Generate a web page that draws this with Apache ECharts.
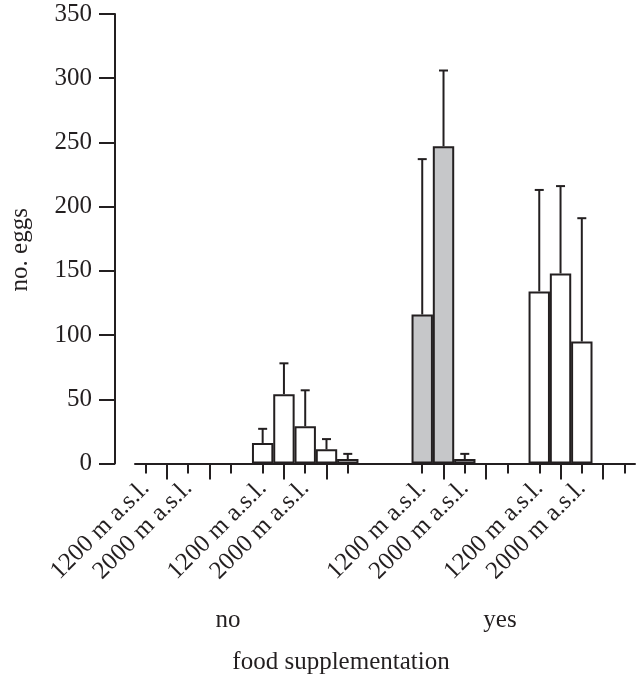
<!DOCTYPE html>
<html>
<head>
<meta charset="utf-8">
<script src="https://cdn.jsdelivr.net/npm/echarts@6/dist/echarts.min.js"></script>
<style>
  html, body { margin: 0; padding: 0; background: #fff; }
  #main { width: 636px; height: 675px; }
</style>
</head>
<body>
<div id="main"></div>
<script>
// x axis is split into half-width slots, bars sit on slot indices
const slotCount = 48;
const slots = Array.from({ length: slotCount }, (_, i) => String(i));

// tick labels
const labelSlots = [1, 5, 12, 16, 27, 31, 38, 42];
const labelTexts = ["1200 m a.s.l.", "2000 m a.s.l.", "1200 m a.s.l.", "2000 m a.s.l.",
    "1200 m a.s.l.", "2000 m a.s.l.", "1200 m a.s.l.", "2000 m a.s.l."];
const shortTickSlots = [1, 5, 9, 12, 16, 20, 27, 31, 35, 38, 42, 46];
const longTickSlots = [3, 7, 14, 18, 29, 33, 40, 44];

// open bars
const whiteSlots = [12, 14, 16, 18, 20, 38, 40, 42];
const whiteMeans = [16, 54, 29, 11, 3.5, 134, 148, 95];
const whiteUpper = [27, 78, 57, 19, 7.5, 213, 216, 191];

// grey bars
const greySlots = [27, 29, 31];
const greyMeans = [116, 247, 3.5];
const greyUpper = [237, 306, 7.5];

const groupLabels = ["no", "yes"];
const yTicks = [0, 50, 100, 150, 200, 250, 300, 350];

const ink = "#231f20";
const font = "Liberation Serif";

const chart = echarts.init(document.getElementById("main"));

function slotData(slotList, values) {
    const data = slots.map(() => "-");
    slotList.forEach((s, i) => { data[s] = values[i]; });
    return data;
}

const errData = [];
whiteSlots.forEach((s, i) => errData.push([s, whiteMeans[i], whiteUpper[i]]));
greySlots.forEach((s, i) => errData.push([s, greyMeans[i], greyUpper[i]]));

const option = {
    animation: false,
    grid: { left: 133, right: 1, top: 14, bottom: 211.5 },
    xAxis: [
        {
            type: "category",
            data: slots,
            boundaryGap: false,
            axisLine: { lineStyle: { color: ink, width: 2 } },
            axisTick: {
                length: 10,
                lineStyle: { color: ink, width: 2 },
                interval: (i) => shortTickSlots.includes(i)
            },
            axisLabel: {
                rotate: 45,
                margin: 21,
                fontFamily: font,
                fontSize: 25,
                color: ink,
                interval: (i) => labelSlots.includes(i),
                formatter: (v, i) => {
                    const k = labelSlots.indexOf(i);
                    return k >= 0 ? labelTexts[k] : "";
                }
            }
        },
        {
            type: "category",
            data: slots,
            boundaryGap: false,
            position: "bottom",
            axisLine: { show: false },
            axisTick: {
                length: 16,
                lineStyle: { color: ink, width: 2 },
                interval: (i) => longTickSlots.includes(i)
            },
            axisLabel: { show: false }
        }
    ],
    yAxis: {
        type: "value",
        min: 0,
        max: 350,
        interval: 50,
        offset: 20,
        name: "no. eggs",
        nameLocation: "middle",
        nameRotate: 90,
        nameGap: 82,
        nameTextStyle: { fontFamily: font, fontSize: 25, color: ink, padding: [0, 22, 0, 0] },
        axisLine: { show: true, lineStyle: { color: ink, width: 2 } },
        axisTick: { show: true, length: 16, lineStyle: { color: ink, width: 2 } },
        axisLabel: {
            margin: 23,
            fontFamily: font,
            fontSize: 25,
            color: ink,
            customValues: yTicks
        },
        splitLine: { show: false }
    },
    series: [
        {
            type: "bar",
            data: slotData(whiteSlots, whiteMeans),
            barWidth: 21.4,
            barGap: "-100%",
            itemStyle: { color: "#ffffff", borderColor: ink, borderWidth: 2 }
        },
        {
            type: "bar",
            data: slotData(greySlots, greyMeans),
            barWidth: 21.4,
            barGap: "-100%",
            itemStyle: { color: "#c6c7c9", borderColor: ink, borderWidth: 2 }
        },
        {
            type: "custom",
            data: errData,
            z: 5,
            renderItem: (params, api) => {
                const base = api.coord([api.value(0), api.value(1)]);
                const top = api.coord([api.value(0), api.value(2)]);
                const style = { stroke: ink, lineWidth: 2 };
                return {
                    type: "group",
                    children: [
                        { type: "line", shape: { x1: base[0], y1: base[1], x2: top[0], y2: top[1] }, style },
                        { type: "line", shape: { x1: top[0] - 4.5, y1: top[1], x2: top[0] + 4.5, y2: top[1] }, style }
                    ]
                };
            }
        }
    ],
    graphic: [
        { type: "text", x: 228, y: 620, style: { text: groupLabels[0], font: "25px " + font, fill: ink, align: "center", verticalAlign: "middle" } },
        { type: "text", x: 500, y: 620, style: { text: groupLabels[1], font: "25px " + font, fill: ink, align: "center", verticalAlign: "middle" } },
        { type: "text", x: 341, y: 662, style: { text: "food supplementation", font: "25px " + font, fill: ink, align: "center", verticalAlign: "middle" } }
    ]
};

chart.setOption(option);
</script>
</body>
</html>
